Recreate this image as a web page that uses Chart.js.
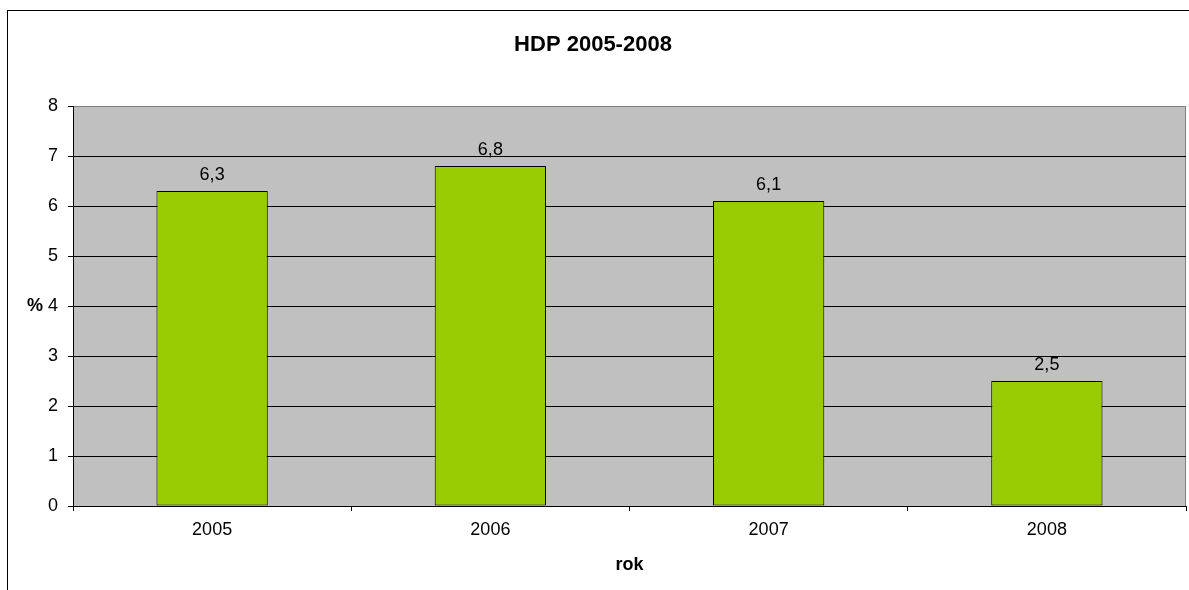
<!DOCTYPE html>
<html>
<head>
<meta charset="utf-8">
<script src="https://cdn.jsdelivr.net/npm/chart.js@4.4.0/dist/chart.umd.min.js"></script>
<style>
  html, body { margin: 0; padding: 0; background: #fff; }
  #wrap { width: 1189px; height: 590px; }
</style>
</head>
<body>
<div id="wrap"><canvas id="hdp" width="1189" height="590"></canvas></div>
<script>
const years = ['2005', '2006', '2007', '2008'];
const hdp = [6.3, 6.8, 6.1, 2.5];
const yTicks = [0, 1, 2, 3, 4, 5, 6, 7, 8];

const FONT = "'Liberation Sans', Arial, sans-serif";

// gray plot background + outer frame + labels that chart.js can't place like excel
const excelBits = {
    id: 'excelBits',
    beforeDraw(chart) {
        const { ctx, chartArea: a } = chart;
        ctx.save();
        ctx.fillStyle = '#fff';
        ctx.fillRect(0, 0, chart.width, chart.height);
        ctx.strokeStyle = '#000';
        ctx.lineWidth = 1;
        ctx.strokeRect(7.5, 10.5, 1300, 700);
        ctx.fillStyle = '#C0C0C0';
        ctx.fillRect(a.left, a.top, a.right - a.left, a.bottom - a.top);
        ctx.strokeStyle = '#808080';
        ctx.beginPath();
        ctx.moveTo(a.left, a.top + 0.5);
        ctx.lineTo(a.right - 0.5, a.top + 0.5);
        ctx.lineTo(a.right - 0.5, a.bottom);
        ctx.stroke();
        ctx.restore();
    },
    afterDraw(chart) {
        const { ctx, chartArea: a } = chart;
        const y = chart.scales.y;
        ctx.save();
        ctx.fillStyle = '#000';
        // value labels
        ctx.font = '18px ' + FONT;
        ctx.textAlign = 'center';
        ctx.textBaseline = 'bottom';
        chart.getDatasetMeta(0).data.forEach((bar, i) => {
            ctx.fillText(String(hdp[i]).replace('.', ','), bar.x, bar.y - 7);
        });
        // axis titles
        ctx.font = 'bold 18px ' + FONT;
        ctx.textBaseline = 'middle';
        ctx.fillText('%', 35, y.getPixelForValue(4));
        ctx.fillText('rok', (a.left + a.right) / 2, 565);
        ctx.restore();
    }
};

new Chart(document.getElementById('hdp'), {
    type: 'bar',
    data: {
        labels: years,
        datasets: [{
            data: hdp,
            backgroundColor: '#99CC00',
            borderColor: '#000',
            borderWidth: 1,
            borderSkipped: false,
            categoryPercentage: 1,
            barPercentage: 0.4
        }]
    },
    options: {
        responsive: false,
        animation: false,
        layout: { padding: { top: 0, right: 3, bottom: 0, left: 0 } },
        plugins: {
            legend: { display: false },
            tooltip: { enabled: false },
            title: {
                display: true,
                text: 'HDP 2005-2008',
                color: '#000',
                font: { family: FONT, size: 22, weight: 'bold' },
                padding: { top: 32, bottom: 47.6 }
            }
        },
        scales: {
            x: {
                offset: true,
                grid: { offset: true, drawOnChartArea: false, color: '#000', tickLength: 5 },
                border: { color: '#000' },
                ticks: { color: '#000', font: { family: FONT, size: 18 }, padding: 8 },
                afterFit(s) { s.height = 84; }
            },
            y: {
                min: 0,
                max: 8,
                afterBuildTicks(s) { s.ticks = yTicks.map(v => ({ value: v })); },
                grid: {
                    color: ctx => ctx.tick && ctx.tick.value === 8 ? '#808080' : '#000',
                    tickColor: '#000',
                    tickLength: 5
                },
                border: { color: '#000' },
                ticks: { color: '#000', font: { family: FONT, size: 18 }, padding: 10 },
                afterFit(s) { s.width = 73; }
            }
        }
    },
    plugins: [excelBits]
});
</script>
</body>
</html>
